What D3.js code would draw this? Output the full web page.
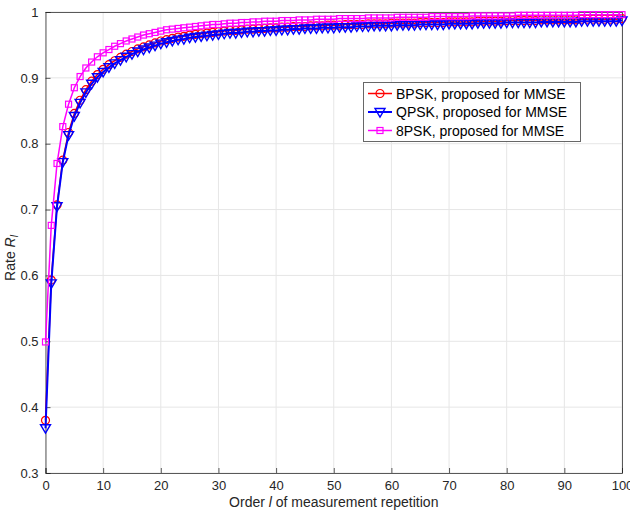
<!DOCTYPE html>
<html><head><meta charset="utf-8">
<script src="https://cdn.jsdelivr.net/npm/d3@7"></script>
<style>body{margin:0;background:#fff;}svg{display:block;font-family:"Liberation Sans",Arial,sans-serif;}</style>
</head><body>
<svg id="c" width="630" height="510"></svg>
<script>
const orders = d3.range(0, 101);
const bpsk = [0.380,0.593,0.707,0.775,0.817,0.846,0.866,0.882,0.895,0.905,
0.913,0.920,0.926,0.931,0.936,0.940,0.944,0.947,0.950,0.953,
0.956,0.958,0.960,0.962,0.963,0.965,0.966,0.967,0.968,0.969,
0.970,0.971,0.972,0.972,0.973,0.974,0.974,0.975,0.975,0.976,
0.976,0.977,0.977,0.978,0.978,0.978,0.979,0.979,0.979,0.980,
0.980,0.980,0.981,0.981,0.981,0.981,0.982,0.982,0.982,0.982,
0.983,0.983,0.983,0.983,0.983,0.984,0.984,0.984,0.984,0.984,
0.985,0.985,0.985,0.985,0.985,0.986,0.986,0.986,0.986,0.986,
0.987,0.987,0.987,0.987,0.987,0.987,0.988,0.988,0.988,0.988,
0.988,0.988,0.988,0.989,0.989,0.989,0.989,0.989,0.989,0.989,0.990];
const qpsk = [0.368,0.588,0.705,0.772,0.813,0.842,0.862,0.878,0.891,0.901,
0.909,0.916,0.922,0.927,0.932,0.936,0.940,0.943,0.946,0.949,
0.952,0.954,0.956,0.958,0.959,0.961,0.962,0.963,0.964,0.965,
0.966,0.967,0.968,0.968,0.969,0.970,0.970,0.971,0.971,0.972,
0.972,0.973,0.973,0.974,0.974,0.975,0.975,0.975,0.976,0.976,
0.976,0.977,0.977,0.977,0.978,0.978,0.978,0.979,0.979,0.979,
0.979,0.980,0.980,0.980,0.980,0.981,0.981,0.981,0.981,0.981,
0.982,0.982,0.982,0.982,0.982,0.983,0.983,0.983,0.983,0.983,
0.984,0.984,0.984,0.984,0.984,0.984,0.985,0.985,0.985,0.985,
0.985,0.985,0.985,0.986,0.986,0.986,0.986,0.986,0.986,0.986,0.987];
const psk8 = [0.499,0.676,0.770,0.826,0.860,0.885,0.902,0.915,0.924,0.932,
0.938,0.943,0.948,0.952,0.956,0.959,0.962,0.965,0.967,0.969,
0.971,0.973,0.974,0.975,0.976,0.977,0.978,0.979,0.980,0.981,
0.981,0.982,0.983,0.983,0.984,0.984,0.985,0.985,0.986,0.986,
0.986,0.987,0.987,0.987,0.988,0.988,0.988,0.989,0.989,0.989,
0.989,0.990,0.990,0.990,0.990,0.990,0.991,0.991,0.991,0.991,
0.991,0.992,0.992,0.992,0.992,0.992,0.992,0.993,0.993,0.993,
0.993,0.993,0.993,0.993,0.994,0.994,0.994,0.994,0.994,0.994,
0.994,0.994,0.995,0.995,0.995,0.995,0.995,0.995,0.995,0.995,
0.995,0.995,0.995,0.996,0.996,0.996,0.996,0.996,0.996,0.996,0.996];
const seriesNames = ["BPSK, proposed for MMSE","QPSK, proposed for MMSE","8PSK, proposed for MMSE"];
const xTicks = [0,10,20,30,40,50,60,70,80,90,100];
const yTicks = [0.3,0.4,0.5,0.6,0.7,0.8,0.9,1];

const svg = d3.select("#c");
const L = 45.5, R = 622, T = 12, B = 473;
const x = d3.scaleLinear().domain([0,100]).range([L,R]);
const y = d3.scaleLinear().domain([0.3,1]).range([B,T]);

// grid
const g = svg.append("g");
g.selectAll("line.vx").data(xTicks).join("line")
  .attr("x1",d=>x(d)).attr("x2",d=>x(d)).attr("y1",T).attr("y2",B)
  .attr("stroke","#e6e6e6").attr("stroke-width",1);
g.selectAll("line.hy").data(yTicks).join("line")
  .attr("x1",L).attr("x2",R).attr("y1",d=>y(d)).attr("y2",d=>y(d))
  .attr("stroke","#e6e6e6").attr("stroke-width",1);

// axes
const xa = svg.append("g").attr("transform",`translate(0,${B})`)
  .call(d3.axisBottom(x).tickValues(xTicks).tickSize(-5).tickPadding(8).tickFormat(d3.format("d")));
const ya = svg.append("g").attr("transform",`translate(${L},0)`)
  .call(d3.axisLeft(y).tickValues(yTicks).tickSize(-5).tickPadding(7).tickFormat(d=>d===1?"1":d3.format(".1f")(d)));
[xa,ya].forEach(a=>{
  a.selectAll("path,line").attr("stroke","#262626").attr("stroke-opacity",0.75);
  a.selectAll("text").attr("fill","#262626").style("font-size","13px").style("font-family","'Liberation Sans',Arial,sans-serif");
});
// box top/right
svg.append("line").attr("x1",L).attr("x2",R).attr("y1",T+0.5).attr("y2",T+0.5).attr("stroke","#262626").attr("stroke-opacity",0.75);
svg.append("line").attr("x1",R+0.5).attr("x2",R+0.5).attr("y1",T).attr("y2",B).attr("stroke","#262626").attr("stroke-opacity",0.75);

const series = [
  {name:seriesNames[0], vals:bpsk, color:"#ff0000", marker:"circle", w:1.5},
  {name:seriesNames[1], vals:qpsk, color:"#0000ff", marker:"tri", w:2},
  {name:seriesNames[2], vals:psk8, color:"#ff00ff", marker:"square", w:1.5}
];
const line = d3.line().x((d,i)=>x(orders[i])).y(d=>y(d));
function drawMarker(sel, type, color){
  if(type==="circle"){
    sel.append("circle").attr("r",4).attr("fill","none").attr("stroke",color).attr("stroke-width",1.2);
  } else if(type==="tri"){
    sel.append("path").attr("d","M-5,-3.5 L5,-3.5 L0,5 Z").attr("fill","none").attr("stroke",color).attr("stroke-width",1.4);
  } else {
    sel.append("rect").attr("x",-3).attr("y",-3).attr("width",6).attr("height",6).attr("fill","none").attr("stroke",color).attr("stroke-width",1.2);
  }
}
series.forEach(s=>{
  svg.append("path").attr("d",line(s.vals)).attr("fill","none").attr("stroke",s.color).attr("stroke-width",s.w);
  const m = svg.append("g").selectAll("g").data(s.vals).join("g")
    .attr("transform",(d,i)=>`translate(${x(orders[i])},${y(d)})`);
  m.each(function(){ drawMarker(d3.select(this), s.marker, s.color); });
});

// legend
const lg = svg.append("g").attr("transform","translate(363,82)");
lg.append("rect").attr("x",0.5).attr("y",0.5).attr("width",217).attr("height",59).attr("fill","#fff").attr("stroke","#262626").attr("stroke-opacity",0.7);
series.forEach((s,i)=>{
  const yy = 11.5 + i*18.5;
  lg.append("line").attr("x1",5).attr("x2",29).attr("y1",yy).attr("y2",yy).attr("stroke",s.color).attr("stroke-width",s.w);
  drawMarker(lg.append("g").attr("transform",`translate(17,${yy})`), s.marker, s.color);
  lg.append("text").attr("x",33).attr("y",yy+5).text(s.name).attr("fill","#000").style("font-size","14px");
});

// axis labels
svg.append("text").attr("x",(L+R)/2).attr("y",507).attr("text-anchor","middle").attr("fill","#262626").style("font-size","14px")
  .html('Order <tspan font-style="italic">l</tspan> of measurement repetition');
svg.append("text").attr("transform","translate(15,258) rotate(-90)").attr("text-anchor","middle").attr("fill","#262626").style("font-size","14px")
  .html('Rate <tspan font-style="italic">R</tspan><tspan font-style="italic" font-size="10px" dy="3">l</tspan>');
</script>
</body></html>
